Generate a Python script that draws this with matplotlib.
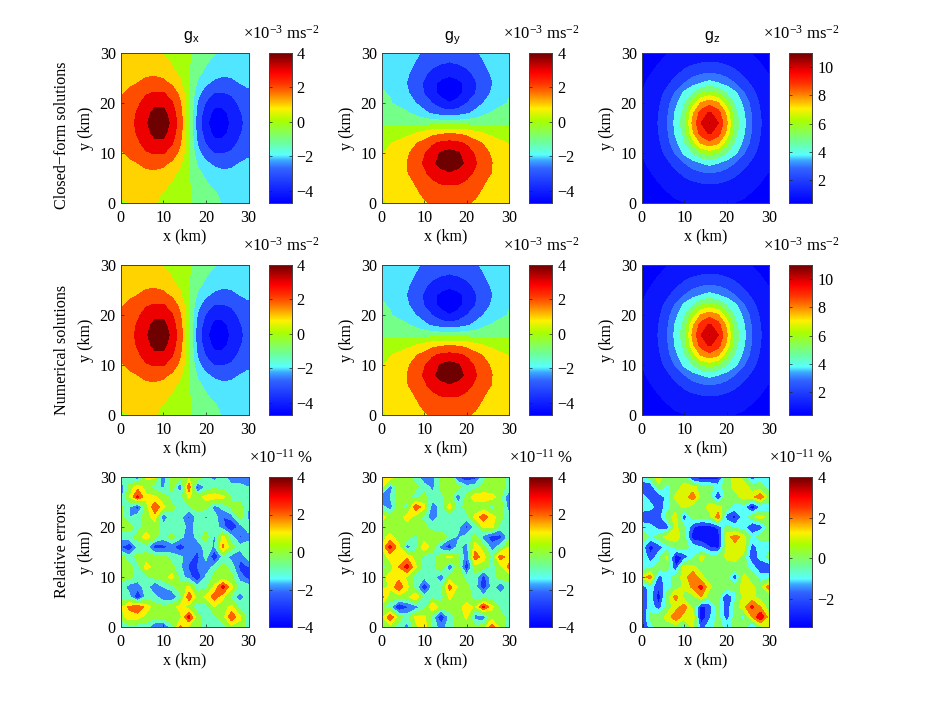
import numpy as np
import matplotlib
matplotlib.use("Agg")
import matplotlib.pyplot as plt
from matplotlib.colors import LinearSegmentedColormap, Normalize

plt.rcParams['font.family'] = ['Liberation Serif', 'DejaVu Serif']
plt.rcParams['mathtext.default'] = 'regular'

grid_km = [0, 2, 4, 6, 8, 10, 12, 14, 16, 18, 20, 22, 24, 26, 28, 30]
grid_rows_top_down = [30, 28, 26, 24, 22, 20, 18, 16, 14, 12, 10, 8, 6, 4, 2, 0]

# Fields (rows from y=30 at the top down to y=0, x = 0..30)
gx_field = [
 [1.05, 1.15, 1.20, 1.25, 1.15, 0.95, 0.75, 0.50, 0.10, -0.50, -0.75, -0.95, -1.15, -1.25, -1.20, -1.15],
 [1.20, 1.35, 1.40, 1.55, 1.60, 1.25, 0.95, 0.65, 0.10, -0.65, -0.95, -1.25, -1.60, -1.55, -1.40, -1.35],
 [1.45, 1.60, 1.70, 1.80, 1.85, 1.70, 1.15, 0.85, 0.10, -0.85, -1.15, -1.70, -1.85, -1.80, -1.70, -1.60],
 [1.70, 1.85, 2.00, 2.25, 2.30, 2.20, 1.85, 1.10, 0.15, -1.10, -1.85, -2.20, -2.30, -2.25, -2.00, -1.85],
 [1.90, 2.15, 2.50, 2.90, 3.05, 3.05, 2.55, 1.70, 0.15, -1.70, -2.55, -3.05, -3.05, -2.90, -2.50, -2.15],
 [2.10, 2.45, 2.85, 3.35, 3.70, 3.70, 3.10, 2.05, 0.20, -2.05, -3.10, -3.70, -3.70, -3.35, -2.85, -2.45],
 [2.25, 2.60, 3.10, 3.70, 4.30, 4.35, 3.45, 2.40, 0.20, -2.40, -3.45, -4.35, -4.30, -3.70, -3.10, -2.60],
 [2.30, 2.70, 3.20, 3.85, 4.60, 4.70, 3.70, 2.50, 0.20, -2.50, -3.70, -4.70, -4.60, -3.85, -3.20, -2.70],
 [2.25, 2.60, 3.10, 3.70, 4.30, 4.35, 3.45, 2.40, 0.20, -2.40, -3.45, -4.35, -4.30, -3.70, -3.10, -2.60],
 [2.10, 2.45, 2.85, 3.35, 3.70, 3.70, 3.10, 2.05, 0.20, -2.05, -3.10, -3.70, -3.70, -3.35, -2.85, -2.45],
 [1.90, 2.15, 2.50, 2.90, 3.05, 3.05, 2.55, 1.70, 0.15, -1.70, -2.55, -3.05, -3.05, -2.90, -2.50, -2.15],
 [1.70, 1.85, 2.00, 2.25, 2.30, 2.20, 1.85, 1.10, 0.15, -1.10, -1.85, -2.20, -2.30, -2.25, -2.00, -1.85],
 [1.45, 1.60, 1.70, 1.80, 1.85, 1.70, 1.15, 0.85, 0.10, -0.85, -1.15, -1.70, -1.85, -1.80, -1.70, -1.60],
 [1.20, 1.35, 1.40, 1.55, 1.60, 1.25, 0.95, 0.65, 0.10, -0.65, -0.95, -1.25, -1.60, -1.55, -1.40, -1.35],
 [1.05, 1.15, 1.20, 1.25, 1.15, 0.95, 0.75, 0.50, 0.10, -0.50, -0.75, -0.95, -1.15, -1.25, -1.20, -1.15],
 [0.95, 1.00, 1.02, 1.05, 1.05, 0.85, 0.65, 0.42, 0.10, -0.42, -0.65, -0.85, -1.05, -1.05, -1.02, -1.00],
]

gy_field = [
 [-1.00, -1.15, -1.35, -1.60, -1.85, -2.15, -2.35, -2.55, -2.65, -2.55, -2.35, -2.15, -1.85, -1.60, -1.35, -1.15],
 [-1.02, -1.20, -1.40, -1.70, -2.05, -2.40, -2.75, -2.95, -3.05, -2.95, -2.75, -2.40, -2.05, -1.70, -1.40, -1.20],
 [-1.05, -1.25, -1.55, -1.90, -2.30, -2.85, -3.25, -3.50, -3.70, -3.50, -3.25, -2.85, -2.30, -1.90, -1.55, -1.25],
 [-1.05, -1.25, -1.60, -2.05, -2.60, -3.10, -3.70, -4.30, -4.60, -4.30, -3.70, -3.10, -2.60, -2.05, -1.60, -1.25],
 [-0.95, -1.05, -1.45, -1.90, -2.45, -3.05, -3.70, -4.35, -4.70, -4.35, -3.70, -3.05, -2.45, -1.90, -1.45, -1.05],
 [-0.80, -0.95, -1.20, -1.60, -2.00, -2.55, -3.05, -3.65, -3.95, -3.65, -3.05, -2.55, -2.00, -1.60, -1.20, -0.95],
 [-0.42, -0.55, -0.70, -0.90, -1.25, -1.75, -2.20, -2.50, -2.60, -2.50, -2.20, -1.75, -1.25, -0.90, -0.70, -0.55],
 [-0.12, -0.15, -0.20, -0.25, -0.30, -0.35, -0.40, -0.40, -0.40, -0.40, -0.40, -0.35, -0.30, -0.25, -0.20, -0.15],
 [0.38, 0.45, 0.60, 0.75, 0.95, 1.30, 1.65, 1.85, 1.90, 1.85, 1.65, 1.30, 0.95, 0.75, 0.60, 0.45],
 [0.80, 0.95, 1.15, 1.50, 1.90, 2.30, 2.85, 3.15, 3.30, 3.15, 2.85, 2.30, 1.90, 1.50, 1.15, 0.95],
 [0.95, 1.15, 1.45, 1.85, 2.35, 2.90, 3.50, 4.10, 4.35, 4.10, 3.50, 2.90, 2.35, 1.85, 1.45, 1.15],
 [1.00, 1.25, 1.55, 2.00, 2.55, 3.10, 3.75, 4.40, 4.70, 4.40, 3.75, 3.10, 2.55, 2.00, 1.55, 1.25],
 [1.05, 1.30, 1.60, 1.95, 2.40, 2.85, 3.30, 3.65, 3.90, 3.65, 3.30, 2.85, 2.40, 1.95, 1.60, 1.30],
 [1.02, 1.20, 1.40, 1.70, 2.05, 2.45, 2.85, 3.05, 3.10, 3.05, 2.85, 2.45, 2.05, 1.70, 1.40, 1.20],
 [1.00, 1.15, 1.35, 1.60, 1.85, 2.15, 2.35, 2.55, 2.60, 2.55, 2.35, 2.15, 1.85, 1.60, 1.35, 1.15],
 [0.95, 1.05, 1.20, 1.45, 1.70, 1.90, 2.10, 2.25, 2.30, 2.25, 2.10, 1.90, 1.70, 1.45, 1.20, 1.05],
]

gz_field = [
 [0.70, 0.78, 0.87, 0.96, 1.13, 1.27, 1.40, 1.47, 1.50, 1.47, 1.40, 1.27, 1.13, 0.96, 0.87, 0.78],
 [0.76, 0.87, 0.99, 1.20, 1.42, 1.65, 1.85, 2.00, 2.05, 2.00, 1.85, 1.65, 1.42, 1.20, 0.99, 0.87],
 [0.83, 0.96, 1.20, 1.47, 1.80, 2.20, 2.55, 2.85, 2.95, 2.85, 2.55, 2.20, 1.80, 1.47, 1.20, 0.96],
 [0.90, 1.13, 1.42, 1.80, 2.35, 2.95, 3.60, 4.00, 4.30, 4.00, 3.60, 2.95, 2.35, 1.80, 1.42, 1.13],
 [0.97, 1.27, 1.65, 2.25, 3.10, 4.20, 4.95, 5.95, 6.40, 5.95, 4.95, 4.20, 3.10, 2.25, 1.65, 1.27],
 [1.05, 1.40, 1.85, 2.60, 3.75, 4.80, 6.40, 8.10, 8.60, 8.10, 6.40, 4.80, 3.75, 2.60, 1.85, 1.40],
 [1.13, 1.47, 2.00, 2.85, 4.15, 5.30, 7.80, 9.40, 10.15, 9.40, 7.80, 5.30, 4.15, 2.85, 2.00, 1.47],
 [1.15, 1.50, 2.05, 2.95, 4.30, 5.60, 8.20, 10.00, 11.03, 10.00, 8.20, 5.60, 4.30, 2.95, 2.05, 1.50],
 [1.13, 1.47, 2.00, 2.85, 4.15, 5.30, 7.80, 9.40, 10.15, 9.40, 7.80, 5.30, 4.15, 2.85, 2.00, 1.47],
 [1.05, 1.40, 1.85, 2.60, 3.75, 4.80, 6.40, 8.10, 8.60, 8.10, 6.40, 4.80, 3.75, 2.60, 1.85, 1.40],
 [0.97, 1.27, 1.65, 2.25, 3.10, 4.20, 4.95, 5.95, 6.40, 5.95, 4.95, 4.20, 3.10, 2.25, 1.65, 1.27],
 [0.90, 1.13, 1.42, 1.80, 2.35, 2.95, 3.60, 4.00, 4.30, 4.00, 3.60, 2.95, 2.35, 1.80, 1.42, 1.13],
 [0.83, 0.96, 1.20, 1.47, 1.80, 2.20, 2.55, 2.85, 2.95, 2.85, 2.55, 2.20, 1.80, 1.47, 1.20, 0.96],
 [0.76, 0.87, 0.99, 1.20, 1.42, 1.65, 1.85, 2.00, 2.05, 2.00, 1.85, 1.65, 1.42, 1.20, 0.99, 0.87],
 [0.70, 0.78, 0.87, 0.96, 1.13, 1.27, 1.40, 1.47, 1.50, 1.47, 1.40, 1.27, 1.13, 0.96, 0.87, 0.78],
 [0.65, 0.70, 0.76, 0.83, 0.90, 0.97, 1.05, 1.13, 1.15, 1.13, 1.05, 0.97, 0.90, 0.83, 0.76, 0.70],
]

err_x = [
 [-1.0, -0.5, -2.2, 1.2, 1.2, -1.8, 0.4, 0.3, 0.8, 1.3, -0.6, -1.5, -0.6, -2.0, -2.2, -1.6],
 [-1.8, 0.3, 1.6, 0.5, -0.6, -1.2, 0.4, -2.0, 2.8, -2.6, -0.8, -0.3, -0.5, -0.5, -0.4, -1.0],
 [-1.5, 1.0, 3.2, 1.2, 1.2, 0.4, -0.3, -0.4, 1.2, 0.3, 1.4, 1.6, 1.2, -0.2, -0.5, -0.5],
 [0.3, -1.0, -2.6, 0.6, 2.8, 1.2, 0.2, -0.4, -0.2, 0.4, 0.3, -1.6, -0.6, 0.2, 0.6, -1.0],
 [0.3, -1.0, -0.3, 0.3, 1.6, -2.0, -0.2, -0.6, -2.3, -0.5, -1.2, -0.4, -2.0, -1.5, 0.4, -1.3],
 [0.4, 0.4, -0.5, 0.5, 0.4, -0.4, -0.6, -0.4, -1.4, -0.6, -0.4, -0.5, -1.6, -3.2, -1.6, -0.3],
 [-0.6, -0.4, 0.4, 1.5, 0.3, -0.6, 0.3, -0.6, -1.8, -0.6, 0.5, -1.2, 1.3, -0.5, -2.2, -1.5],
 [-2.0, -3.0, -0.8, -0.5, -2.6, -2.4, -1.8, -2.8, -1.6, -1.8, -0.5, -1.2, 2.2, 0.4, -0.6, -0.3],
 [0.4, -0.6, 0.3, 0.4, 0.3, 0.4, -0.5, -0.8, -1.6, -2.4, -0.6, -3.3, -0.6, -1.4, -1.8, -0.5],
 [0.3, 0.4, -0.4, 1.5, 0.4, 0.4, 0.3, -0.8, -2.2, -2.0, -1.8, -0.6, 0.3, -0.4, -2.4, -2.0],
 [0.4, 0.3, -0.5, -0.3, 0.3, 0.5, 1.4, -0.5, -1.5, -3.0, -0.8, 0.3, 0.4, 0.3, -1.4, -2.6],
 [-0.4, -1.5, -1.6, -0.5, -2.3, -1.0, -0.4, 0.4, 1.2, -0.5, -0.4, 1.2, 3.4, 1.3, -0.4, -0.5],
 [-0.5, -0.6, -3.3, -0.5, -0.6, -1.8, -2.0, -0.4, 2.8, 0.5, 1.2, 2.5, 1.2, -0.4, -1.6, -0.5],
 [0.9, 2.2, 3.0, 1.6, 0.4, 0.3, 0.6, 1.3, 0.4, -0.5, -0.5, 1.0, 0.5, 1.3, -0.4, -0.3],
 [0.4, 1.6, 1.4, 0.6, 0.3, 0.4, 0.6, 0.7, 3.4, 0.4, -0.4, -0.4, 0.6, 2.8, 1.2, -0.6],
 [-1.2, -0.5, -0.6, -0.6, -2.0, -2.2, -0.5, 2.2, 0.6, 0.5, -0.5, -0.5, -0.6, 0.6, 0.6, -0.5],
]

err_y = [
 [1.4, 1.6, 0.6, 0.4, -0.5, -1.8, -1.5, 0.4, 0.3, -2.2, -3.0, -2.4, -0.4, 0.4, 0.4, -0.3],
 [1.2, -1.6, 0.4, 0.5, 0.3, -0.5, -1.3, 0.4, 0.4, 0.4, -0.6, -0.5, 0.3, 0.3, 0.4, -0.4],
 [-2.2, -1.0, 0.4, 0.4, -0.6, 0.4, -0.6, -0.4, 0.5, -1.8, 0.3, 1.6, 1.5, 1.4, 0.3, -2.0],
 [-0.6, -1.6, 0.4, -0.5, 2.8, 1.3, -1.7, -0.6, 1.4, -0.5, 0.4, 0.4, 0.4, -0.5, 0.4, -1.5],
 [1.4, 0.4, 0.5, 1.4, 0.6, -0.4, -1.7, -0.5, -0.5, -0.5, -0.4, 1.2, 2.6, 1.4, 0.4, -0.6],
 [0.4, 0.3, 0.4, 0.6, 0.4, 0.3, -0.4, -0.6, -0.5, -0.6, -2.4, -0.6, 1.2, 1.2, -0.5, -0.4],
 [0.6, 1.4, 0.4, 0.4, -0.3, 0.4, 0.5, 0.9, -0.5, -1.2, -0.5, 0.4, -1.5, -2.6, -2.4, -0.5],
 [1.0, 3.4, 1.3, -1.6, -0.5, 1.8, 0.4, -1.5, -2.8, -0.6, -1.5, 1.6, 0.4, -1.5, -0.5, 1.0],
 [0.4, 1.4, 1.6, 1.8, 0.5, -0.4, -0.4, 0.4, 1.4, 0.3, -1.8, 2.6, 1.4, -0.4, 2.6, 1.2],
 [-0.5, 0.4, 2.0, 3.4, 1.2, -0.5, -0.4, 0.9, -2.2, 0.5, -3.0, 0.6, 0.4, -0.4, 0.6, 2.4],
 [0.5, 1.5, 1.6, 0.8, -0.5, -0.8, -0.5, -1.8, 0.5, 0.8, -0.5, -0.4, -2.6, -0.4, 0.4, 0.4],
 [0.4, 1.2, 2.8, 1.2, -0.4, -3.0, -0.8, -0.4, 2.4, 0.8, 0.3, -0.5, -2.8, -0.5, -2.0, -0.4],
 [2.4, 0.4, 0.5, 0.6, 2.0, -0.6, -0.4, -0.4, 1.2, 0.4, 0.4, -0.4, -0.6, -0.4, -0.4, -0.3],
 [0.4, -0.6, -3.3, -2.2, -1.6, -0.5, 2.0, 0.4, 0.4, 0.5, 1.5, 0.8, 3.2, 1.2, -0.4, -0.4],
 [0.6, 2.8, 0.4, -0.5, 1.2, 1.3, -0.5, -3.2, -0.6, 0.4, 1.2, -1.5, -1.8, 0.5, 0.4, -0.4],
 [0.5, 0.6, -0.4, -1.5, 0.8, 1.5, -0.4, -1.5, -0.5, 0.4, 0.4, 0.3, 0.5, 2.6, 0.4, -0.3],
]

err_z = [
 [-0.4, 0.4, 1.4, 0.5, 0.4, 0.5, -2.4, -2.8, -2.8, -2.4, 0.5, 1.3, 0.6, -1.8, -0.5, -0.4],
 [-1.8, -2.0, 0.8, -0.4, 0.5, 1.3, 1.4, 0.4, 0.3, -0.5, 0.5, 1.4, 1.6, 0.5, 0.4, -0.4],
 [-0.4, -1.6, -2.0, -0.5, 1.2, 1.4, 2.6, 0.6, 0.4, -2.2, 0.4, 0.5, 1.4, 1.6, 2.8, 0.4],
 [-0.4, -0.5, -1.8, -0.4, 0.5, 1.2, 0.5, 0.4, 1.4, 1.4, 0.4, -0.4, -0.5, -3.0, -1.0, -0.4],
 [-1.8, -2.2, -1.6, 0.4, 1.5, -2.0, 0.5, 0.4, 0.6, 2.6, -1.6, -2.4, -0.5, 0.6, 1.5, 0.5],
 [-0.4, -0.5, -1.6, -1.6, 1.2, 0.4, -1.8, -2.6, -2.4, -1.8, 0.4, -0.5, -0.5, -2.2, -1.6, 0.4],
 [1.2, -0.4, 0.5, 1.4, 1.6, 0.4, -2.6, -2.8, -3.0, -2.8, 1.4, 2.6, 1.4, -0.4, 0.4, 0.3],
 [-0.4, -2.4, -1.6, -0.4, 0.3, 0.4, -0.4, -1.0, -2.0, -2.4, 1.2, 1.5, 1.5, -1.6, -0.5, -0.4],
 [0.4, -1.8, -0.4, 1.3, -2.8, -1.8, -0.4, 1.4, 0.4, 0.4, 1.2, 1.4, 0.6, -2.0, -0.5, 0.3],
 [-0.4, -0.4, 0.4, 0.4, -2.0, 1.5, 1.2, 0.6, 0.4, 0.4, 0.5, 0.5, 0.4, -0.4, -2.2, -1.8],
 [1.2, 2.6, -1.5, -0.4, 0.4, 1.4, 3.0, 1.3, 0.4, 0.3, 0.4, -2.0, 1.4, 0.5, -0.5, -0.5],
 [-1.8, -0.5, -1.8, -0.4, 0.4, 1.2, 2.2, 3.4, 1.2, 0.4, 0.4, 0.4, 1.4, 1.2, 0.6, 2.6],
 [-2.0, -0.5, -2.8, 0.5, 2.4, 0.6, 0.4, 2.0, 0.3, 0.4, -2.2, -0.4, 1.4, 1.4, 0.5, 0.3],
 [-2.2, -0.4, -1.6, 0.5, 1.4, 2.6, 0.6, -2.4, -1.6, 0.4, -1.8, 0.3, 1.6, 3.2, 2.0, 0.4],
 [-2.4, 0.3, 0.4, 1.3, 2.8, 1.4, 2.0, -3.0, -1.2, 0.4, -1.6, 0.4, -0.4, 2.0, 4.0, 1.4],
 [-2.8, -0.5, 0.4, 0.6, 0.4, -0.4, 1.2, -1.5, -0.5, 0.4, -0.4, 0.3, 0.5, -1.6, 0.6, 1.6],
]

fields = [[gx_field, gy_field, gz_field],
          [gx_field, gy_field, gz_field],
          [err_x, err_y, err_z]]
color_ranges = [[(-4.7, 4.0), (-4.7, 4.0), (0.4, 11.0)],
                [(-4.7, 4.0), (-4.7, 4.0), (0.4, 11.0)],
                [(-4.0, 4.0), (-4.0, 4.0), (-3.4, 4.0)]]
bar_ticks = [[[-4, -2, 0, 2, 4], [-4, -2, 0, 2, 4], [2, 4, 6, 8, 10]],
             [[-4, -2, 0, 2, 4], [-4, -2, 0, 2, 4], [2, 4, 6, 8, 10]],
             [[-4, -2, 0, 2, 4], [-4, -2, 0, 2, 4], [-2, 0, 2, 4]]]
units = ["×10$^{-3}$ ms$^{-2}$", "×10$^{-3}$ ms$^{-2}$", "×10$^{-11}$ %"]
row_names = ["Closed−form solutions", "Numerical solutions", "Relative errors"]
row_name_centres = [135, 350, 550]
col_titles = ["x", "y", "z"]
gy_level_one_colour = (255, 228, 0)

cmap_stops = [(0.0, (0, 0, 255)), (0.10, (20, 40, 255)), (0.23, (50, 100, 255)),
              (0.285, (60, 170, 255)), (0.32, (90, 255, 255)), (0.41, (110, 255, 150)),
              (0.55, (170, 255, 0)), (0.63, (255, 240, 0)), (0.74, (255, 110, 0)),
              (0.80, (255, 50, 0)), (0.87, (255, 0, 0)), (1.0, (110, 0, 0))]
cmap = LinearSegmentedColormap.from_list(
    "bar", [(p, tuple(v / 255 for v in c)) for p, c in cmap_stops], N=256)

W, H = 926, 706
fig = plt.figure(figsize=(W / 100, H / 100), dpi=100)

def px_axes(x0, y0, x1, y1):
    return fig.add_axes([x0 / W, 1 - y1 / H, (x1 - x0) / W, (y1 - y0) / H])

col_x = [(120.7, 248.5), (381.7, 509.0), (641.7, 769.0)]
bar_x = [(269.0, 291.7), (529.3, 552.3), (789.3, 812.3)]
row_y = [(53.0, 203.0), (265.0, 415.0), (477.0, 627.0)]
FS = 11.6
frame = '#404040'

def style(ax):
    for s in ax.spines.values():
        s.set_linewidth(0.7)
        s.set_color(frame)
    ax.tick_params(direction='in', length=2, width=0.5, labelsize=FS, pad=3.5, color='#202020')
    ax.tick_params(axis='x', pad=5)

X = np.array(grid_km)
Y = np.array(grid_rows_top_down)
for r in range(3):
    for c in range(3):
        y0, y1 = row_y[r]
        ax = px_axes(col_x[c][0], y0, col_x[c][1], y1)
        vmin, vmax = color_ranges[r][c]
        norm = Normalize(vmin, vmax)
        inner = np.arange(np.ceil(vmin + 1e-6), np.floor(vmax) + 1)
        edges = np.r_[-100, inner, 100]
        lvls = np.r_[vmin, inner]
        cols = [cmap(norm(v)) for v in lvls]
        if r < 2 and c == 1:
            cols[list(lvls).index(1.0)] = tuple(v / 255 for v in gy_level_one_colour)
        ax.contourf(X, Y, np.array(fields[r][c]), levels=edges, colors=cols)
        ax.set_xlim(0, 30)
        ax.set_ylim(0, 30)
        ax.set_xticks([0, 10, 20, 30])
        ax.set_yticks([0, 10, 20, 30])
        ax.set_xlabel("x (km)", fontsize=FS, labelpad=2)
        ax.set_ylabel("y (km)", fontsize=FS)
        ax.yaxis.set_label_coords(-27 / (col_x[c][1] - col_x[c][0]), 0.5)
        style(ax)

        cax = px_axes(bar_x[c][0], y0, bar_x[c][1], y1)
        cax.imshow(np.linspace(1, 0, 256)[:, None], cmap=cmap, aspect='auto',
                   extent=[0, 1, vmin, vmax], vmin=0, vmax=1)
        cax.set_xticks([])
        cax.yaxis.tick_right()
        cax.set_yticks(bar_ticks[r][c])
        cax.set_yticklabels([str(t).replace('-', '−') for t in bar_ticks[r][c]])
        style(cax)
        cax.tick_params(right=True, left=True)

        fig.text((bar_x[c][1] - 11) / W, 1 - (y0 - 14) / H, units[r], fontsize=FS + 0.4,
                 ha='center', va='baseline', family='Liberation Serif')
    fig.text(62 / W, 1 - row_name_centres[r] / H, row_names[r], rotation=90,
             fontsize=FS, ha='center', va='center')

for c in range(3):
    fig.text((sum(col_x[c]) / 2 + 7) / W, 1 - 40 / H, "g$_{%s}$" % col_titles[c], fontsize=FS,
             ha='center', va='baseline', family='Liberation Sans')

fig.savefig("out.png", dpi=100)
